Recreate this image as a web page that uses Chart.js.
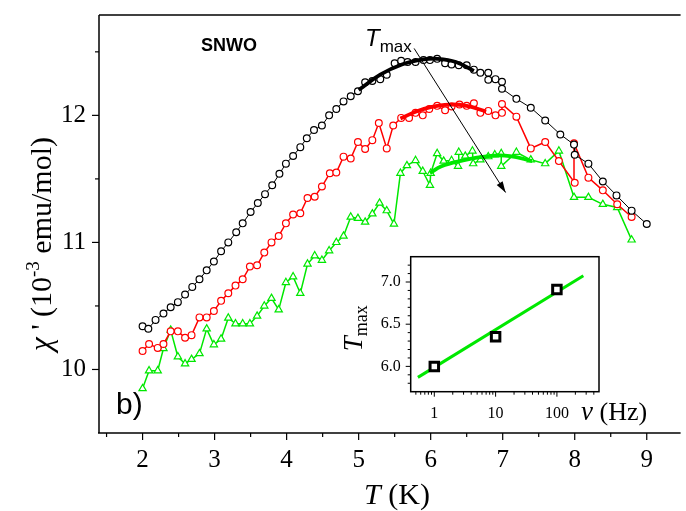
<!DOCTYPE html>
<html>
<head>
<meta charset="utf-8">
<script src="https://cdn.jsdelivr.net/npm/chart.js@4.4.0/dist/chart.umd.min.js"></script>
<style>
  html, body { margin: 0; padding: 0; background: #fff; }
  #wrap { position: relative; width: 686px; height: 511px; overflow: hidden; }
  #main { position: absolute; left: 0; top: 0; }
  #inset { position: absolute; left: 330px; top: 245px; }
</style>
</head>
<body>
<div id="wrap">
  <canvas id="main" width="686" height="511"></canvas>
  <canvas id="inset" width="330" height="185"></canvas>
</div>
<script>
// ---- main panel data: chi' vs T, three frequencies ----
const blackT = [2.00, 2.08, 2.18, 2.29, 2.39, 2.49, 2.59, 2.69, 2.79, 2.89, 2.99, 3.09, 3.19, 3.30, 3.39, 3.50,
  3.60, 3.70, 3.80, 3.90, 3.99, 4.09, 4.19, 4.28, 4.38, 4.49, 4.59, 4.69, 4.79, 4.89, 4.99, 5.09, 5.19, 5.30,
  5.39, 5.50, 5.59, 5.68, 5.79, 5.90, 5.99, 6.09, 6.20, 6.29, 6.39, 6.50, 6.60, 6.69, 6.80, 6.80, 6.90, 6.99,
  6.99, 7.19, 7.39, 7.59, 7.80, 7.99, 8.00, 8.19, 8.39, 8.58, 8.79, 9.00];
const blackChi = [10.34, 10.32, 10.39, 10.44, 10.49, 10.53, 10.59, 10.65, 10.71, 10.78, 10.85, 10.93, 11.00, 11.08,
  11.15, 11.24, 11.31, 11.38, 11.45, 11.54, 11.62, 11.68, 11.75, 11.82, 11.885, 11.92, 12.00, 12.05, 12.11, 12.15,
  12.19, 12.26, 12.27, 12.285, 12.32, 12.41, 12.43, 12.42, 12.42, 12.435, 12.435, 12.445, 12.41, 12.40, 12.395,
  12.395, 12.36, 12.335, 12.335, 12.28, 12.285, 12.265, 12.21, 12.13, 12.06, 11.96, 11.85, 11.77, 11.69, 11.62,
  11.48, 11.37, 11.25, 11.145];

const redT = [2.00, 2.09, 2.21, 2.29, 2.39, 2.49, 2.59, 2.68, 2.79, 2.89, 2.99, 3.09, 3.19, 3.29, 3.39, 3.49, 3.59,
  3.69, 3.79, 3.89, 3.99, 4.09, 4.19, 4.29, 4.39, 4.49, 4.60, 4.69, 4.79, 4.89, 4.99, 5.09, 5.19, 5.28, 5.39, 5.48,
  5.59, 5.70, 5.79, 5.89, 5.98, 6.09, 6.20, 6.29, 6.40, 6.50, 6.60, 6.69, 6.80, 6.90, 6.99, 6.99, 7.19, 7.39, 7.59,
  7.78, 8.00, 7.99, 8.19, 8.39, 8.59, 8.79];
const redChi = [10.145, 10.20, 10.17, 10.20, 10.30, 10.30, 10.25, 10.27, 10.41, 10.41, 10.46, 10.54, 10.60, 10.66,
  10.71, 10.81, 10.82, 10.92, 11.00, 11.05, 11.15, 11.22, 11.23, 11.35, 11.36, 11.44, 11.545, 11.55, 11.675, 11.66,
  11.79, 11.735, 11.805, 11.94, 11.74, 11.92, 11.98, 11.98, 12.02, 12.00, 12.05, 12.075, 12.04, 12.07, 12.085,
  12.075, 12.095, 12.02, 12.035, 12.00, 12.02, 12.09, 11.99, 11.74, 11.79, 11.64, 11.47, 11.78, 11.51, 11.41,
  11.30, 11.20];

const greenT = [2.00, 2.09, 2.21, 2.29, 2.39, 2.49, 2.59, 2.68, 2.79, 2.89, 2.99, 3.09, 3.19, 3.29, 3.39, 3.49,
  3.59, 3.69, 3.79, 3.89, 3.99, 4.09, 4.19, 4.29, 4.39, 4.49, 4.59, 4.69, 4.79, 4.89, 4.99, 5.09, 5.19, 5.29, 5.39,
  5.49, 5.58, 5.67, 5.79, 5.89, 5.99, 6.00, 6.09, 6.18, 6.29, 6.38, 6.39, 6.48, 6.58, 6.59, 6.69, 6.80, 6.89, 6.98,
  6.98, 7.19, 7.39, 7.59, 7.78, 7.99, 8.19, 8.39, 8.59, 8.79];
const greenChi = [9.85, 9.99, 9.99, 10.165, 10.31, 10.10, 10.045, 10.08, 10.125, 10.32, 10.195, 10.24, 10.405, 10.36,
  10.36, 10.36, 10.42, 10.50, 10.56, 10.47, 10.685, 10.73, 10.60, 10.83, 10.895, 10.86, 10.935, 11.00, 11.05, 11.20,
  11.19, 11.16, 11.225, 11.31, 11.25, 11.145, 11.545, 11.605, 11.645, 11.56, 11.45, 11.545, 11.70, 11.64, 11.645,
  11.60, 11.71, 11.68, 11.72, 11.62, 11.65, 11.675, 11.69, 11.70, 11.60, 11.71, 11.65, 11.62, 11.72, 11.355,
  11.355, 11.30, 11.275, 11.02];

// thick fitted curves around the maximum
const blackFitT = [5.0, 5.3, 5.6, 5.9, 6.1, 6.35, 6.6];
const blackFitChi = [12.2, 12.32, 12.40, 12.44, 12.445, 12.42, 12.35];
const redFitT = [5.58, 5.8, 6.0, 6.25, 6.5, 6.77];
const redFitChi = [11.975, 12.03, 12.065, 12.085, 12.075, 12.03];
const greenFitT = [5.99, 6.15, 6.4, 6.8, 7.1, 7.41];
const greenFitChi = [11.545, 11.6, 11.64, 11.68, 11.68, 11.64];

const xTicks = [2, 3, 4, 5, 6, 7, 8, 9];
const yTicks = [10, 11, 12];

// ---- inset data: Tmax vs frequency ----
const freq = [1, 10, 100];
const tMax = [6.0, 6.35, 6.91];
const fitFreq = [0.54, 270];
const fitTmax = [5.87, 7.075];
const freqTicks = [1, 10, 100];
const tMaxTicks = [6.0, 6.5, 7.0];

const GREEN = '#00e800';
const RED = '#ff0000';
const SERIF = '"Liberation Serif", "DejaVu Serif", serif';
const SANS = '"Liberation Sans", Arial, sans-serif';

const pts = (xs, ys) => xs.map((x, i) => ({ x: x, y: ys[i] }));

function drawRich(ctx, parts, x, y, align) {
    let w = 0;
    parts.forEach(p => { ctx.font = p.font; w += ctx.measureText(p.text).width; });
    let cx = align === 'center' ? x - w / 2 : (align === 'right' ? x - w : x);
    ctx.textAlign = 'left';
    ctx.textBaseline = 'alphabetic';
    parts.forEach(p => {
        ctx.font = p.font;
        ctx.fillText(p.text, cx, y + (p.dy || 0));
        cx += ctx.measureText(p.text).width;
    });
}

function line(ctx, x1, y1, x2, y2) {
    ctx.beginPath();
    ctx.moveTo(x1, y1);
    ctx.lineTo(x2, y2);
    ctx.stroke();
}

// Frame, ticks, titles and annotations of the main panel
const mainDecor = {
    id: 'mainDecor',
    afterDraw(chart) {
        const { ctx, chartArea: a, scales: { x, y } } = chart;
        ctx.save();
        ctx.strokeStyle = '#000';
        ctx.fillStyle = '#000';
        ctx.lineWidth = 1.5;
        line(ctx, a.left, a.top, a.right, a.top);
        line(ctx, a.left, a.top, a.left, a.bottom);
        line(ctx, a.left - 1, a.bottom, a.right, a.bottom);

        ctx.lineWidth = 1.2;
        for (let v = 1.5; v < x.max; v += 0.5) {
            const px = x.getPixelForValue(v);
            const len = Number.isInteger(v) ? 7 : 4;
            line(ctx, px, a.bottom, px, a.bottom + len);
        }
        for (let v = 10; v < y.max; v += 0.5) {
            const py = y.getPixelForValue(v);
            const len = Number.isInteger(v) ? 7 : 4;
            line(ctx, a.left, py, a.left - len, py);
        }

        // axis titles
        drawRich(ctx, [
            { text: 'T', font: 'italic 30px ' + SERIF },
            { text: ' (K)', font: '30px ' + SERIF }
        ], 397, 504, 'center');

        ctx.save();
        ctx.translate(51, 244);
        ctx.rotate(-Math.PI / 2);
        drawRich(ctx, [
            { text: '\u03c7', font: 'italic 31px ' + SERIF },
            { text: ' \' (10', font: '30px ' + SERIF },
            { text: '-3', font: '19px ' + SERIF, dy: -12 },
            { text: ' emu/mol)', font: '30px ' + SERIF }
        ], 0, 0, 'center');
        ctx.restore();

        // labels inside the plot
        drawRich(ctx, [{ text: 'SNWO', font: 'bold 18px ' + SANS }], 201, 51, 'left');
        drawRich(ctx, [{ text: 'b)', font: '30px ' + SANS }], 116, 414, 'left');
        drawRich(ctx, [
            { text: 'T', font: 'italic 24px ' + SANS },
            { text: 'max', font: '17px ' + SANS, dy: 6 }
        ], 365, 46, 'left');

        // arrow showing the shift of Tmax
        const x1 = x.getPixelForValue(5.77), y1 = y.getPixelForValue(12.527);
        const x2 = x.getPixelForValue(7.04), y2 = y.getPixelForValue(11.393);
        ctx.lineWidth = 1;
        line(ctx, x1, y1, x2, y2);
        const ang = Math.atan2(y2 - y1, x2 - x1);
        ctx.beginPath();
        ctx.moveTo(x2, y2);
        ctx.lineTo(x2 - 11 * Math.cos(ang) + 3.5 * Math.sin(ang), y2 - 11 * Math.sin(ang) - 3.5 * Math.cos(ang));
        ctx.lineTo(x2 - 11 * Math.cos(ang) - 3.5 * Math.sin(ang), y2 - 11 * Math.sin(ang) + 3.5 * Math.cos(ang));
        ctx.closePath();
        ctx.fill();
        ctx.restore();
    }
};

function series(xs, ys, color, style, radius, width) {
    return {
        data: pts(xs, ys),
        borderColor: color,
        backgroundColor: '#fff',
        borderWidth: width,
        pointStyle: style,
        pointRadius: radius,
        pointBorderWidth: 1.2,
        pointBorderColor: color,
        pointBackgroundColor: '#fff',
        tension: 0,
        order: 2
    };
}

function fitCurve(xs, ys, color) {
    return {
        data: pts(xs, ys),
        borderColor: color,
        borderWidth: 3.8,
        pointRadius: 0,
        tension: 0.4,
        fill: false,
        order: 0
    };
}

new Chart(document.getElementById('main'), {
    type: 'line',
    data: {
        datasets: [
            fitCurve(blackFitT, blackFitChi, '#000'),
            fitCurve(redFitT, redFitChi, RED),
            fitCurve(greenFitT, greenFitChi, GREEN),
            series(blackT, blackChi, '#000', 'circle', 3.4, 1),
            series(redT, redChi, RED, 'circle', 3.4, 1.5),
            series(greenT, greenChi, GREEN, 'triangle', 4.2, 1.5)
        ]
    },
    options: {
        responsive: false,
        animation: false,
        devicePixelRatio: 1,
        layout: { padding: { left: 0, top: 15, right: 0, bottom: 0 } },
        plugins: { legend: { display: false }, tooltip: { enabled: false } },
        scales: {
            x: {
                type: 'linear',
                min: 1.395,
                max: 9.47,
                afterFit: s => { s.height = 78; s.paddingLeft = 0; s.paddingRight = 0; },
                afterBuildTicks: s => { s.ticks = xTicks.map(v => ({ value: v })); },
                border: { display: false },
                grid: { drawOnChartArea: false, color: 'rgba(0,0,0,0)', tickLength: 7 },
                ticks: { color: '#000', padding: 5, maxRotation: 0, font: { family: SERIF, size: 25 } }
            },
            y: {
                min: 9.5,
                max: 12.79,
                afterFit: s => { s.width = 99; s.paddingTop = 0; s.paddingBottom = 0; },
                afterBuildTicks: s => { s.ticks = yTicks.map(v => ({ value: v })); },
                border: { display: false },
                grid: { drawOnChartArea: false, color: 'rgba(0,0,0,0)', tickLength: 7 },
                ticks: { color: '#000', padding: 6, font: { family: SERIF, size: 25 } }
            }
        }
    },
    plugins: [mainDecor]
});

// ---- inset ----
const insetDecor = {
    id: 'insetDecor',
    beforeDatasetsDraw(chart) {
        const { ctx, chartArea: a } = chart;
        ctx.save();
        ctx.fillStyle = '#fff';
        ctx.fillRect(a.left, a.top, a.right - a.left, a.bottom - a.top);
        ctx.restore();
    },
    afterDraw(chart) {
        const { ctx, chartArea: a, scales: { x, y } } = chart;
        ctx.save();
        ctx.strokeStyle = '#000';
        ctx.fillStyle = '#000';
        ctx.lineWidth = 1.5;
        ctx.strokeRect(a.left, a.top, a.right - a.left, a.bottom - a.top);
        ctx.lineWidth = 1;
        for (let d = 0.1; d < 1000; d *= 10) {
            for (let m = 1; m <= 9; m++) {
                const v = d * m;
                if (v < x.min || v > x.max) continue;
                const px = x.getPixelForValue(v);
                line(ctx, px, a.bottom, px, a.bottom + (m === 1 ? 5 : 3));
            }
        }
        for (let k = 58; k <= 72; k++) {
            const v = k / 10;
            const py = y.getPixelForValue(v);
            line(ctx, a.left, py, a.left - (k % 5 === 0 ? 5 : 3), py);
        }
        drawRich(ctx, [
            { text: '\u03bd', font: 'italic 27px ' + SERIF },
            { text: ' (Hz)', font: '26px ' + SERIF }
        ], a.right - 18, a.bottom + 28, 'left');

        ctx.translate(a.left - 49, (a.top + a.bottom) / 2 + 4);
        ctx.rotate(-Math.PI / 2);
        drawRich(ctx, [
            { text: 'T', font: 'italic 27px ' + SERIF },
            { text: 'max', font: '18px ' + SERIF, dy: 5 }
        ], 0, 0, 'center');
        ctx.restore();
    }
};

new Chart(document.getElementById('inset'), {
    type: 'line',
    data: {
        datasets: [
            {
                data: pts(freq, tMax),
                showLine: false,
                pointStyle: 'rect',
                pointRadius: 6,
                pointBorderWidth: 3,
                pointBorderColor: '#000',
                pointBackgroundColor: '#fff',
                order: 0
            },
            {
                data: pts(fitFreq, fitTmax),
                borderColor: GREEN,
                borderWidth: 3,
                pointRadius: 0,
                order: 1
            }
        ]
    },
    options: {
        responsive: false,
        animation: false,
        devicePixelRatio: 1,
        layout: { padding: { left: 0, top: 11.7, right: 61, bottom: 0 } },
        plugins: { legend: { display: false }, tooltip: { enabled: false } },
        scales: {
            x: {
                type: 'logarithmic',
                min: 0.412,
                max: 486,
                afterFit: s => { s.height = 38.3; s.paddingLeft = 0; s.paddingRight = 0; },
                afterBuildTicks: s => { s.ticks = freqTicks.map(v => ({ value: v })); },
                border: { display: false },
                grid: { drawOnChartArea: false, color: 'rgba(0,0,0,0)', tickLength: 5 },
                ticks: { color: '#000', padding: 7, maxRotation: 0, callback: v => String(v), font: { family: SERIF, size: 16 } }
            },
            y: {
                type: 'linear',
                min: 5.7,
                max: 7.3,
                afterFit: s => { s.width = 80.7; s.paddingTop = 0; s.paddingBottom = 0; },
                afterBuildTicks: s => { s.ticks = tMaxTicks.map(v => ({ value: v })); },
                border: { display: false },
                grid: { drawOnChartArea: false, color: 'rgba(0,0,0,0)', tickLength: 5 },
                ticks: { color: '#000', padding: 5, callback: v => v.toFixed(1), font: { family: SERIF, size: 16 } }
            }
        }
    },
    plugins: [insetDecor]
});
</script>
</body>
</html>
